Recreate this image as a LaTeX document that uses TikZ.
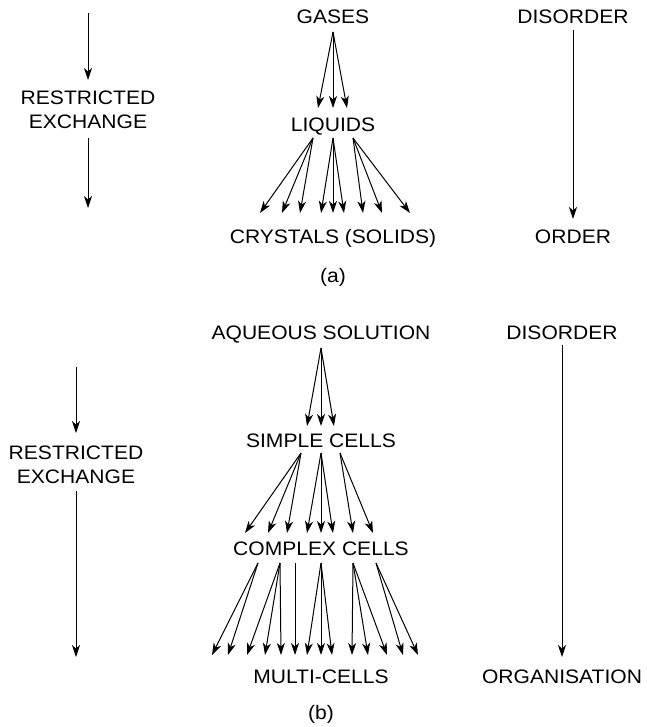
\documentclass[tikz,border=0pt]{standalone}
\usepackage{fontspec}
\setmainfont{Liberation Sans}[FakeStretch=1.08]
\usetikzlibrary{arrows.meta}
\begin{document}
\begin{tikzpicture}[x=1pt,y=-1pt,
  lbl/.style={inner sep=0pt, text height=14pt, text depth=0pt,
              font=\fontsize{19.5}{24}\selectfont},
  arr/.style={line width=1pt, -{Stealth[length=12pt,width=8pt,inset=3.5pt]}}]
\useasboundingbox (0,0) rectangle (646,727);

% ---------------- (a) ----------------
\node[lbl] (gas) at (333,17) {GASES};
\node[lbl] (liq) at (333,125) {LIQUIDS};
\node[lbl] (cry) at (333,236) {CRYSTALS (SOLIDS)};
\node[lbl] (capa) at (333,275) {(a)};

\node[lbl] (resA) at (88,98) {RESTRICTED};
\node[lbl] (excA) at (88,122) {EXCHANGE};
\coordinate (la0) at (88,13);
\coordinate (la1) at (88,80);
\coordinate (la2) at (88,138);
\coordinate (la3) at (88,208);
\draw[arr] (la0) -- (la1);
\draw[arr] (la2) -- (la3);

\node[lbl] (disA) at (573,17) {DISORDER};
\node[lbl] (ordA) at (573,236) {ORDER};
\coordinate (ra0) at (573,30);
\coordinate (ra1) at (573,219);
\draw[arr] (ra0) -- (ra1);

\coordinate (g0) at (333,32);
\foreach \x [count=\i] in {318,333,347}
  {\coordinate (gt\i) at (\x,108); \draw[arr] (g0) -- (gt\i);}
\coordinate (l1) at (313,138);
\coordinate (l2) at (333,138);
\coordinate (l3) at (353,138);
\foreach \x [count=\i] in {260,282,300}
  {\coordinate (lta\i) at (\x,213); \draw[arr] (l1) -- (lta\i);}
\foreach \x [count=\i] in {321,333,344}
  {\coordinate (ltb\i) at (\x,213); \draw[arr] (l2) -- (ltb\i);}
\foreach \x [count=\i] in {363,382,410}
  {\coordinate (ltc\i) at (\x,213); \draw[arr] (l3) -- (ltc\i);}

% ---------------- (b) ----------------
\node[lbl] (aq) at (321,332) {AQUEOUS SOLUTION};
\node[lbl] (sc) at (321,440) {SIMPLE CELLS};
\node[lbl] (cc) at (321,548) {COMPLEX CELLS};
\node[lbl] (mc) at (321,676) {MULTI-CELLS};
\node[lbl] (capb) at (321,712) {(b)};

\node[lbl] (resB) at (76,452) {RESTRICTED};
\node[lbl] (excB) at (76,476) {EXCHANGE};
\coordinate (lb0) at (76,367);
\coordinate (lb1) at (76,433);
\coordinate (lb2) at (76,491);
\coordinate (lb3) at (76,657);
\draw[arr] (lb0) -- (lb1);
\draw[arr] (lb2) -- (lb3);

\node[lbl] (disB) at (562,332) {DISORDER};
\node[lbl] (orgB) at (562,676) {ORGANISATION};
\coordinate (rb0) at (562,345);
\coordinate (rb1) at (562,657);
\draw[arr] (rb0) -- (rb1);

\coordinate (a0) at (321,348);
\foreach \x [count=\i] in {307,321,334}
  {\coordinate (at\i) at (\x,426); \draw[arr] (a0) -- (at\i);}

\coordinate (s1) at (301,453);
\coordinate (s2) at (321,453);
\coordinate (s3) at (340,453);
\foreach \x [count=\i] in {245,268,287}
  {\coordinate (sta\i) at (\x,533); \draw[arr] (s1) -- (sta\i);}
\foreach \x [count=\i] in {307,321,333}
  {\coordinate (stb\i) at (\x,533); \draw[arr] (s2) -- (stb\i);}
\foreach \x [count=\i] in {353,373}
  {\coordinate (stc\i) at (\x,533); \draw[arr] (s3) -- (stc\i);}

\coordinate (c1) at (258,563);
\coordinate (c2) at (280,563);
\coordinate (c3) at (295,563);
\coordinate (c4) at (321,563);
\coordinate (c5) at (353,563);
\coordinate (c6) at (376,563);
\foreach \x [count=\i] in {212,228}
  {\coordinate (cta\i) at (\x,655); \draw[arr] (c1) -- (cta\i);}
\foreach \x [count=\i] in {247,265,281}
  {\coordinate (ctb\i) at (\x,655); \draw[arr] (c2) -- (ctb\i);}
\coordinate (ctc1) at (295,655); \draw[arr] (c3) -- (ctc1);
\foreach \x [count=\i] in {307,321,332}
  {\coordinate (ctd\i) at (\x,655); \draw[arr] (c4) -- (ctd\i);}
\foreach \x [count=\i] in {352,368,387}
  {\coordinate (cte\i) at (\x,655); \draw[arr] (c5) -- (cte\i);}
\foreach \x [count=\i] in {403,418}
  {\coordinate (ctf\i) at (\x,655); \draw[arr] (c6) -- (ctf\i);}
\end{tikzpicture}
\end{document}
